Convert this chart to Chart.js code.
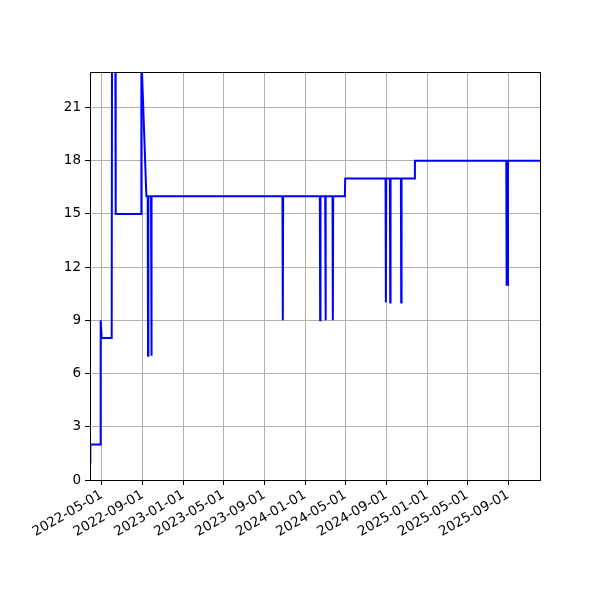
<!DOCTYPE html>
<html>
<head>
<meta charset="utf-8">
<script src="https://cdn.jsdelivr.net/npm/chart.js@4/dist/chart.umd.min.js"></script>
<style>
  html, body { margin: 0; padding: 0; background: #fff; }
</style>
</head>
<body>
<canvas id="chart" width="600" height="600"></canvas>
<script>
// change points of the series (daily data, only the days where it moves)
let dates = [
  '2022-03-27', '2022-03-28', '2022-04-27', '2022-04-28', '2022-05-01',
  '2022-05-31', '2022-06-01', '2022-06-11', '2022-06-12', '2022-08-27',
  '2022-08-28', '2022-09-12', '2022-09-16', '2022-09-17', '2022-09-18',
  '2022-09-26', '2022-09-27', '2022-09-28', '2023-10-25', '2023-10-26',
  '2023-10-27', '2024-02-14', '2024-02-15', '2024-02-16', '2024-03-01',
  '2024-03-02', '2024-03-03', '2024-03-23', '2024-03-24', '2024-03-25',
  '2024-04-29', '2024-04-30', '2024-08-29', '2024-08-30', '2024-08-31',
  '2024-09-11', '2024-09-12', '2024-09-13', '2024-10-14', '2024-10-15',
  '2024-10-16', '2024-11-24', '2024-11-25', '2025-08-26', '2025-08-27',
  '2025-08-30', '2025-08-31', '2025-12-05'
];
let values = [
  1, 2, 2, 9, 8,
  8, 24, 24, 15, 15,
  24, 16, 16, 7, 16,
  16, 7, 16, 16, 9,
  16, 16, 9, 16, 16,
  9, 16, 16, 9, 16,
  16, 17, 17, 10, 17,
  17, 10, 17, 17, 10,
  17, 17, 18, 18, 11,
  11, 18, 18
];
let xTickLabels = [
  '2022-05-01', '2022-09-01', '2023-01-01', '2023-05-01', '2023-09-01',
  '2024-01-01', '2024-05-01', '2024-09-01', '2025-01-01', '2025-05-01',
  '2025-09-01'
];
let yTicks = [0, 3, 6, 9, 12, 15, 18, 21];
let yMax = 23;

function toMs(s) {
  let p = s.split('-');
  return Date.UTC(+p[0], +p[1] - 1, +p[2]);
}
function fmt(ms) {
  return new Date(ms).toISOString().slice(0, 10);
}

let points = [];
for (let i = 0; i < dates.length; i++) {
  points.push({ x: toMs(dates[i]), y: values[i] });
}

let tickFont = { family: 'DejaVu Sans', size: 13.5 };

// black box round the plot area, like matplotlib spines
let frame = {
  id: 'frame',
  afterDatasetsDraw(chart) {
    let a = chart.chartArea;
    let ctx = chart.ctx;
    ctx.save();
    ctx.strokeStyle = '#000';
    ctx.lineWidth = 1;
    ctx.strokeRect(Math.round(a.left) + 0.5, Math.round(a.top) + 0.5,
      Math.round(a.right - a.left), Math.round(a.bottom - a.top));
    ctx.restore();
  }
};

let options = {
  type: 'line',
  data: {
    datasets: [
      {
        data: points,
        borderColor: 'blue',
        borderWidth: 2,
        pointRadius: 0,
        tension: 0,
        fill: false,
        clip: 0,
      },
    ],
  },
  options: {
    responsive: false,
    animation: false,
    devicePixelRatio: 1,
    layout: { padding: { left: 0, top: 72, right: 60, bottom: 0 } },
    plugins: { legend: { display: false }, tooltip: { enabled: false } },
    scales: {
      x: {
        type: 'linear',
        min: toMs(dates[0]),
        max: toMs(dates[dates.length - 1]),
        afterBuildTicks(s) {
          s.ticks = xTickLabels.map(function (d) { return { value: toMs(d) }; });
        },
        afterFit(s) { s.height = 120; },
        ticks: {
          autoSkip: false,
          minRotation: 30,
          maxRotation: 30,
          padding: 2,
          color: '#000',
          font: tickFont,
          callback: function (v) { return fmt(v); },
        },
        grid: { color: '#b0b0b0', lineWidth: 1, tickColor: '#000', tickLength: 5 },
        border: { display: false },
      },
      y: {
        min: 0,
        max: yMax,
        afterBuildTicks(s) {
          s.ticks = yTicks.map(function (v) { return { value: v }; });
        },
        afterFit(s) { s.width = 90; },
        ticks: { padding: 4, color: '#000', font: tickFont },
        grid: { color: '#b0b0b0', lineWidth: 1, tickColor: '#000', tickLength: 5 },
        border: { display: false },
      },
    },
  },
  plugins: [frame],
};

let chart = new Chart(document.getElementById('chart'), options);
</script>
</body>
</html>
